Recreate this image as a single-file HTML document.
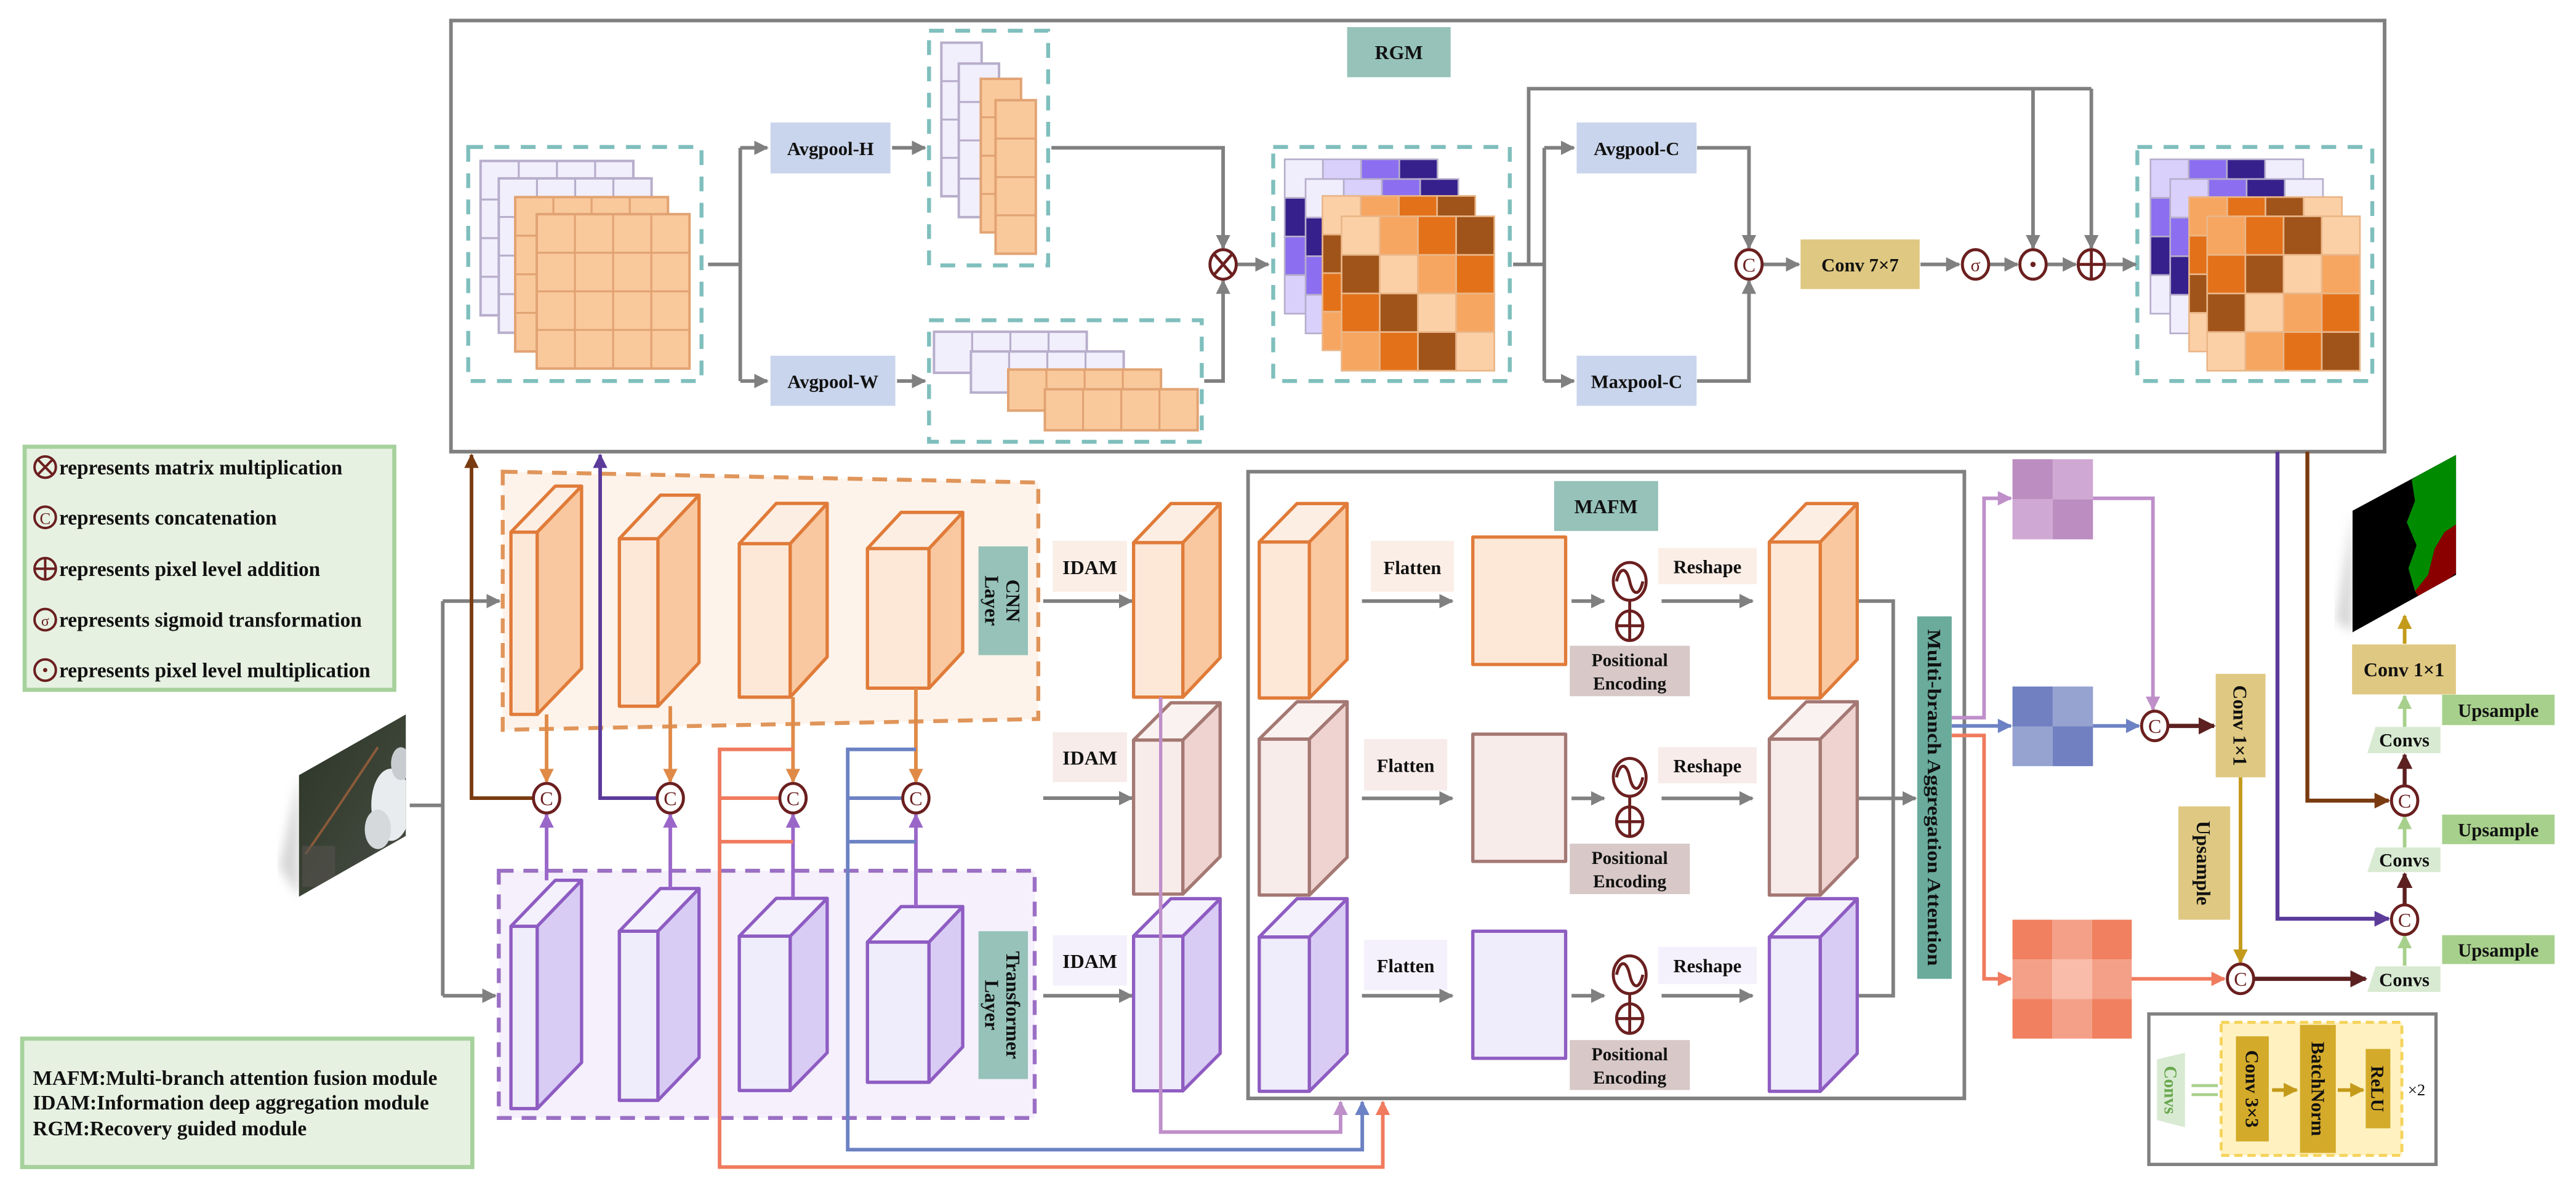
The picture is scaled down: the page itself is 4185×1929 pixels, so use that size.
<!DOCTYPE html>
<html><head><meta charset="utf-8"><style>
html,body{margin:0;padding:0;background:#fff;}
svg{display:block;}
text{font-family:"Liberation Serif",serif;font-weight:bold;fill:#111;}
</style></head><body>
<svg width="4185" height="1929" viewBox="0 0 1568 722.75" xmlns="http://www.w3.org/2000/svg">
<defs>
<marker id="mG" viewBox="0 0 10 10" refX="9" refY="5" markerWidth="4" markerHeight="4" orient="auto"><path d="M0 0L10 5L0 10z" fill="#808080"/></marker>
<marker id="mO" viewBox="0 0 10 10" refX="9" refY="5" markerWidth="4" markerHeight="4" orient="auto"><path d="M0 0L10 5L0 10z" fill="#e08a48"/></marker>
<marker id="mP" viewBox="0 0 10 10" refX="9" refY="5" markerWidth="4" markerHeight="4" orient="auto"><path d="M0 0L10 5L0 10z" fill="#9a67c9"/></marker>
<marker id="mB" viewBox="0 0 10 10" refX="9" refY="5" markerWidth="4" markerHeight="4" orient="auto"><path d="M0 0L10 5L0 10z" fill="#7a3b10"/></marker>
<marker id="mDP" viewBox="0 0 10 10" refX="9" refY="5" markerWidth="4" markerHeight="4" orient="auto"><path d="M0 0L10 5L0 10z" fill="#5b3a9a"/></marker>
<marker id="mS" viewBox="0 0 10 10" refX="9" refY="5" markerWidth="4" markerHeight="4" orient="auto"><path d="M0 0L10 5L0 10z" fill="#f07b5e"/></marker>
<marker id="mBl" viewBox="0 0 10 10" refX="9" refY="5" markerWidth="4" markerHeight="4" orient="auto"><path d="M0 0L10 5L0 10z" fill="#6c82c4"/></marker>
<marker id="mPk" viewBox="0 0 10 10" refX="9" refY="5" markerWidth="4" markerHeight="4" orient="auto"><path d="M0 0L10 5L0 10z" fill="#bf8fca"/></marker>
<marker id="mR" viewBox="0 0 10 10" refX="9" refY="5" markerWidth="4" markerHeight="4" orient="auto"><path d="M0 0L10 5L0 10z" fill="#5c2020"/></marker>
<marker id="mY" viewBox="0 0 10 10" refX="9" refY="5" markerWidth="4" markerHeight="4" orient="auto"><path d="M0 0L10 5L0 10z" fill="#c49a1a"/></marker>
<marker id="mLG" viewBox="0 0 10 10" refX="9" refY="5" markerWidth="4" markerHeight="4" orient="auto"><path d="M0 0L10 5L0 10z" fill="#a8d08d"/></marker>

<g id="Lg"><rect width="93" height="94" fill="#f1effc" stroke="#b7aecb" stroke-width="1.5"/><path d="M23.25 0V94M46.5 0V94M69.75 0V94M0 23.5H93M0 47H93M0 70.5H93" stroke="#b7aecb" stroke-width="1.2"/></g>
<g id="Og"><rect width="93" height="94" fill="#f9c99c" stroke="#e2a373" stroke-width="1.5"/><path d="M23.25 0V94M46.5 0V94M69.75 0V94M0 23.5H93M0 47H93M0 70.5H93" stroke="#e2a373" stroke-width="1.2"/></g>
<g id="HL"><rect width="24.5" height="93.5" fill="#f1effc" stroke="#b7aecb" stroke-width="1.5"/><path d="M0 23.4H24.5M0 46.8H24.5M0 70.1H24.5" stroke="#b7aecb" stroke-width="1.2"/></g>
<g id="HO"><rect width="24.5" height="93.5" fill="#f9c99c" stroke="#e2a373" stroke-width="1.5"/><path d="M0 23.4H24.5M0 46.8H24.5M0 70.1H24.5" stroke="#e2a373" stroke-width="1.2"/></g>
<g id="WL"><rect width="93" height="25" fill="#f1effc" stroke="#b7aecb" stroke-width="1.5"/><path d="M23.25 0V25M46.5 0V25M69.75 0V25" stroke="#b7aecb" stroke-width="1.2"/></g>
<g id="WO"><rect width="93" height="25" fill="#f9c99c" stroke="#e2a373" stroke-width="1.5"/><path d="M23.25 0V25M46.5 0V25M69.75 0V25" stroke="#e2a373" stroke-width="1.2"/></g>

<g id="MO" stroke="#eab688" stroke-width="1">
<rect x="0" y="0" width="23.25" height="23.5" fill="#fcd0a6"/><rect x="23.25" y="0" width="23.25" height="23.5" fill="#f7a661"/><rect x="46.5" y="0" width="23.25" height="23.5" fill="#e3711a"/><rect x="69.75" y="0" width="23.25" height="23.5" fill="#a0541a"/>
<rect x="0" y="23.5" width="23.25" height="23.5" fill="#a0541a"/><rect x="23.25" y="23.5" width="23.25" height="23.5" fill="#fcd0a6"/><rect x="46.5" y="23.5" width="23.25" height="23.5" fill="#f7a661"/><rect x="69.75" y="23.5" width="23.25" height="23.5" fill="#e3711a"/>
<rect x="0" y="47" width="23.25" height="23.5" fill="#e3711a"/><rect x="23.25" y="47" width="23.25" height="23.5" fill="#a0541a"/><rect x="46.5" y="47" width="23.25" height="23.5" fill="#fcd0a6"/><rect x="69.75" y="47" width="23.25" height="23.5" fill="#f7a661"/>
<rect x="0" y="70.5" width="23.25" height="23.5" fill="#f7a661"/><rect x="23.25" y="70.5" width="23.25" height="23.5" fill="#e3711a"/><rect x="46.5" y="70.5" width="23.25" height="23.5" fill="#a0541a"/><rect x="69.75" y="70.5" width="23.25" height="23.5" fill="#fcd0a6"/>
</g>
<g id="MP" stroke="#b7aecb" stroke-width="1">
<rect x="0" y="0" width="23.25" height="23.5" fill="#f0eefc"/><rect x="23.25" y="0" width="23.25" height="23.5" fill="#d9d0fb"/><rect x="46.5" y="0" width="23.25" height="23.5" fill="#8b6ff0"/><rect x="69.75" y="0" width="23.25" height="23.5" fill="#36208c"/>
<rect x="0" y="23.5" width="23.25" height="23.5" fill="#36208c"/><rect x="23.25" y="23.5" width="23.25" height="23.5" fill="#f0eefc"/><rect x="46.5" y="23.5" width="23.25" height="23.5" fill="#d9d0fb"/><rect x="69.75" y="23.5" width="23.25" height="23.5" fill="#8b6ff0"/>
<rect x="0" y="47" width="23.25" height="23.5" fill="#8b6ff0"/><rect x="23.25" y="47" width="23.25" height="23.5" fill="#36208c"/><rect x="46.5" y="47" width="23.25" height="23.5" fill="#f0eefc"/><rect x="69.75" y="47" width="23.25" height="23.5" fill="#d9d0fb"/>
<rect x="0" y="70.5" width="23.25" height="23.5" fill="#d9d0fb"/><rect x="23.25" y="70.5" width="23.25" height="23.5" fill="#8b6ff0"/><rect x="46.5" y="70.5" width="23.25" height="23.5" fill="#36208c"/><rect x="69.75" y="70.5" width="23.25" height="23.5" fill="#f0eefc"/>
</g>
<g id="RO" stroke="#eab688" stroke-width="1">
<rect x="0" y="0" width="23.25" height="23.5" fill="#f7a661"/><rect x="23.25" y="0" width="23.25" height="23.5" fill="#e3711a"/><rect x="46.5" y="0" width="23.25" height="23.5" fill="#a0541a"/><rect x="69.75" y="0" width="23.25" height="23.5" fill="#fcd0a6"/>
<rect x="0" y="23.5" width="23.25" height="23.5" fill="#e3711a"/><rect x="23.25" y="23.5" width="23.25" height="23.5" fill="#a0541a"/><rect x="46.5" y="23.5" width="23.25" height="23.5" fill="#fcd0a6"/><rect x="69.75" y="23.5" width="23.25" height="23.5" fill="#f7a661"/>
<rect x="0" y="47" width="23.25" height="23.5" fill="#a0541a"/><rect x="23.25" y="47" width="23.25" height="23.5" fill="#fcd0a6"/><rect x="46.5" y="47" width="23.25" height="23.5" fill="#f7a661"/><rect x="69.75" y="47" width="23.25" height="23.5" fill="#e3711a"/>
<rect x="0" y="70.5" width="23.25" height="23.5" fill="#fcd0a6"/><rect x="23.25" y="70.5" width="23.25" height="23.5" fill="#f7a661"/><rect x="46.5" y="70.5" width="23.25" height="23.5" fill="#e3711a"/><rect x="69.75" y="70.5" width="23.25" height="23.5" fill="#a0541a"/>
</g>
<g id="RP" stroke="#b7aecb" stroke-width="1">
<rect x="0" y="0" width="23.25" height="23.5" fill="#d9d0fb"/><rect x="23.25" y="0" width="23.25" height="23.5" fill="#8b6ff0"/><rect x="46.5" y="0" width="23.25" height="23.5" fill="#36208c"/><rect x="69.75" y="0" width="23.25" height="23.5" fill="#f0eefc"/>
<rect x="0" y="23.5" width="23.25" height="23.5" fill="#8b6ff0"/><rect x="23.25" y="23.5" width="23.25" height="23.5" fill="#36208c"/><rect x="46.5" y="23.5" width="23.25" height="23.5" fill="#f0eefc"/><rect x="69.75" y="23.5" width="23.25" height="23.5" fill="#d9d0fb"/>
<rect x="0" y="47" width="23.25" height="23.5" fill="#36208c"/><rect x="23.25" y="47" width="23.25" height="23.5" fill="#f0eefc"/><rect x="46.5" y="47" width="23.25" height="23.5" fill="#d9d0fb"/><rect x="69.75" y="47" width="23.25" height="23.5" fill="#8b6ff0"/>
<rect x="0" y="70.5" width="23.25" height="23.5" fill="#f0eefc"/><rect x="23.25" y="70.5" width="23.25" height="23.5" fill="#d9d0fb"/><rect x="46.5" y="70.5" width="23.25" height="23.5" fill="#8b6ff0"/><rect x="69.75" y="70.5" width="23.25" height="23.5" fill="#36208c"/>
</g>
<linearGradient id="sat" x1="0" y1="0" x2="1" y2="1"><stop offset="0" stop-color="#2b3527"/><stop offset="0.5" stop-color="#3a4235"/><stop offset="1" stop-color="#4a4c48"/></linearGradient>
<clipPath id="satc"><polygon points="182,472 247,435 247,509 182,546"/></clipPath>
<clipPath id="segc"><polygon points="1432,311 1495,277 1495,350 1432,385"/></clipPath>
<filter id="blur"><feGaussianBlur stdDeviation="3"/></filter>
</defs>

<!-- ============ RGM ============ -->
<rect x="274.5" y="12.5" width="1177" height="262.5" fill="#fff" stroke="#808080" stroke-width="2.2"/>
<rect x="820" y="16.5" width="63" height="30.5" fill="#96c2b9"/>
<text x="851.5" y="36" font-size="12" text-anchor="middle">RGM</text>

<!-- left map -->
<rect x="285" y="89.5" width="142" height="142.5" fill="none" stroke="#7fbfbd" stroke-width="2.4" stroke-dasharray="9 7"/>
<use href="#Lg" x="292.5" y="98"/><use href="#Lg" x="303.6" y="108.6"/><use href="#Og" x="313.6" y="120"/><use href="#Og" x="326.7" y="130.4"/>
<!-- H map -->
<rect x="565.5" y="18.7" width="72.5" height="142.9" fill="none" stroke="#7fbfbd" stroke-width="2.4" stroke-dasharray="9 7"/>
<use href="#HL" x="573" y="26"/><use href="#HL" x="583.6" y="38.7"/><use href="#HO" x="597" y="48"/><use href="#HO" x="606" y="61"/>
<!-- W map -->
<rect x="565.5" y="195" width="166" height="74" fill="none" stroke="#7fbfbd" stroke-width="2.4" stroke-dasharray="9 7"/>
<use href="#WL" x="568.5" y="202"/><use href="#WL" x="591" y="214"/><use href="#WO" x="613.7" y="225"/><use href="#WO" x="636" y="237"/>
<!-- mid map -->
<rect x="775" y="89.5" width="144" height="142.5" fill="none" stroke="#7fbfbd" stroke-width="2.4" stroke-dasharray="9 7"/>
<use href="#MP" x="782" y="97"/><use href="#MP" x="794.7" y="109"/><use href="#MO" x="805" y="119.3"/><use href="#MO" x="816.6" y="131.7"/>
<!-- right map -->
<rect x="1301" y="89.5" width="143" height="142.5" fill="none" stroke="#7fbfbd" stroke-width="2.4" stroke-dasharray="9 7"/>
<use href="#RP" x="1309" y="97"/><use href="#RP" x="1321" y="109"/><use href="#RO" x="1332.5" y="120"/><use href="#RO" x="1343.5" y="131.7"/>

<rect x="469" y="74.6" width="73" height="31" fill="#c9d5ec"/><text x="505.5" y="94.5" font-size="11.5" text-anchor="middle">Avgpool-H</text>
<rect x="469" y="216.6" width="76" height="30.5" fill="#c9d5ec"/><text x="507" y="236.3" font-size="11.5" text-anchor="middle">Avgpool-W</text>
<rect x="959.7" y="74.6" width="73" height="31" fill="#c9d5ec"/><text x="996.2" y="94.5" font-size="11.5" text-anchor="middle">Avgpool-C</text>
<rect x="959.7" y="216.6" width="73" height="30.5" fill="#c9d5ec"/><text x="996.2" y="236.3" font-size="11.5" text-anchor="middle">Maxpool-C</text>
<rect x="1096" y="145.8" width="72.5" height="30.2" fill="#dfc881"/><text x="1132.2" y="165.3" font-size="11.5" text-anchor="middle">Conv 7×7</text>

<g fill="none" stroke="#808080" stroke-width="2.2">
<path d="M431 161H450.6M450.6 90V232"/>
<path d="M450.6 90H467" marker-end="url(#mG)"/>
<path d="M450.6 232H467" marker-end="url(#mG)"/>
<path d="M543 90H563" marker-end="url(#mG)"/>
<path d="M546 232H563" marker-end="url(#mG)"/>
<path d="M640 90H744.5V151" marker-end="url(#mG)"/>
<path d="M733 232H744.5V171" marker-end="url(#mG)"/>
<path d="M753 161H772" marker-end="url(#mG)"/>
<path d="M921 161H940M940 90V232M930.5 161V54H1273"/>
<path d="M940 90H958" marker-end="url(#mG)"/>
<path d="M940 232H958" marker-end="url(#mG)"/>
<path d="M1033 90H1064.6V151" marker-end="url(#mG)"/>
<path d="M1033 232H1064.6V171" marker-end="url(#mG)"/>
<path d="M1073 161H1095" marker-end="url(#mG)"/>
<path d="M1169 161H1192.5" marker-end="url(#mG)"/>
<path d="M1211 161H1228" marker-end="url(#mG)"/>
<path d="M1246 161H1263.5" marker-end="url(#mG)"/>
<path d="M1282 161H1300" marker-end="url(#mG)"/>
<path d="M1237.5 54V151" marker-end="url(#mG)"/>
<path d="M1273 54V151" marker-end="url(#mG)"/>
</g>
<g fill="#fff" stroke="#6b1f1f" stroke-width="1.8">
<ellipse cx="744.5" cy="161" rx="8" ry="9"/><path d="M738.9 154.6L750.1 167.4M750.1 154.6L738.9 167.4"/>
<ellipse cx="1064.6" cy="161" rx="8" ry="9"/>
<ellipse cx="1202.5" cy="161" rx="8" ry="9"/>
<ellipse cx="1237.5" cy="161" rx="8" ry="9"/>
<ellipse cx="1273" cy="161" rx="8" ry="9"/><path d="M1265 161H1281M1273 152V170"/>
</g>
<circle cx="1237.5" cy="161" r="1.6" fill="#6b1f1f"/>
<text x="1064.6" y="165.5" font-size="12" text-anchor="middle" style="font-weight:normal;fill:#6b1f1f">C</text>
<text x="1202.5" y="165" font-size="11" text-anchor="middle" style="font-weight:normal;fill:#6b1f1f">σ</text>

<!-- ============ Legends ============ -->
<rect x="15" y="272" width="225" height="148" fill="#e7f1e2" stroke="#a6d19c" stroke-width="2.5"/>
<g fill="none" stroke="#6b1f1f" stroke-width="1.5">
<circle cx="27.5" cy="284.4" r="6.5"/><path d="M23 279.8L32 289M32 279.8L23 289"/>
<circle cx="27.5" cy="315" r="6.5"/>
<circle cx="27.5" cy="346.3" r="6.5"/><path d="M21 346.3H34M27.5 339.8V352.8"/>
<circle cx="27.5" cy="377.3" r="6.5"/>
<circle cx="27.5" cy="408" r="6.5"/>
</g>
<circle cx="27.5" cy="408" r="1.3" fill="#6b1f1f"/>
<text x="27.5" y="319" font-size="10" text-anchor="middle" style="font-weight:normal;fill:#6b1f1f">C</text>
<text x="27.5" y="381" font-size="9" text-anchor="middle" style="font-weight:normal;fill:#6b1f1f">σ</text>
<g font-size="12.5">
<text x="36" y="288.8">represents matrix multiplication</text>
<text x="36" y="319.4">represents concatenation</text>
<text x="36" y="350.7">represents pixel level addition</text>
<text x="36" y="381.7">represents sigmoid transformation</text>
<text x="36" y="412.4">represents pixel level multiplication</text>
</g>
<rect x="13.5" y="632.4" width="274" height="78.2" fill="#e7f1e2" stroke="#a6d19c" stroke-width="2.5"/>
<g font-size="12.5">
<text x="20" y="660.6">MAFM:Multi-branch attention fusion module</text>
<text x="20" y="675.6">IDAM:Information deep aggregation module</text>
<text x="20" y="691.3">RGM:Recovery guided module</text>
</g>

<!-- ============ Input image ============ -->
<polygon points="170,528 182,472 182,546" fill="#bbb" opacity="0.6" filter="url(#blur)"/>
<polygon points="182,472 247,435 247,509 182,546" fill="url(#sat)"/>
<g clip-path="url(#satc)">
<ellipse cx="238" cy="490" rx="12" ry="22" fill="#e9ecef"/>
<ellipse cx="230" cy="505" rx="8" ry="12" fill="#d5d9dc"/>
<ellipse cx="244" cy="465" rx="6" ry="10" fill="#c8ccd0"/>
<path d="M186 520Q200 500 210 485T230 455" stroke="#8a5a3a" stroke-width="1.5" fill="none"/>
<rect x="184" y="515" width="20" height="25" fill="#55524d" opacity="0.6"/>
</g>

<!-- ============ CNN / Transformer regions ============ -->
<polygon points="306,287.2 632,293.8 632,437.8 306,444.4" fill="#fdf3ea" stroke="#e0955a" stroke-width="2.4" stroke-dasharray="9 6"/>
<rect x="303.6" y="530.2" width="326.2" height="150.5" fill="#f5f0fc" stroke="#9b6fc4" stroke-width="2.4" stroke-dasharray="9 6"/>

<!-- CNN cubes -->
<g stroke="#e07b39" stroke-width="2" stroke-linejoin="round">
<rect x="311" y="324" width="16" height="111" fill="#fde8d8"/><polygon points="327,324 354,296 354,407 327,435" fill="#f9c8a0"/><polygon points="311,324 338,296 354,296 327,324" fill="#fdeee3"/>
<rect x="377" y="328" width="23.5" height="102" fill="#fde8d8"/><polygon points="400.5,328 425.5,301.5 425.5,403.5 400.5,430" fill="#f9c8a0"/><polygon points="377,328 402,301.5 425.5,301.5 400.5,328" fill="#fdeee3"/>
<rect x="450" y="331" width="31" height="93.5" fill="#fde8d8"/><polygon points="481,331 503.5,306.5 503.5,400 481,424.5" fill="#f9c8a0"/><polygon points="450,331 472.5,306.5 503.5,306.5 481,331" fill="#fdeee3"/>
<rect x="528" y="334" width="37.5" height="85" fill="#fde8d8"/><polygon points="565.5,334 586,312 586,397 565.5,419" fill="#f9c8a0"/><polygon points="528,334 548.5,312 586,312 565.5,334" fill="#fdeee3"/>
</g>
<!-- Transformer cubes -->
<g stroke="#8e5cc2" stroke-width="2" stroke-linejoin="round">
<rect x="311" y="564" width="16" height="111" fill="#efecfb"/><polygon points="327,564 354,536 354,647 327,675" fill="#d8ccf5"/><polygon points="311,564 338,536 354,536 327,564" fill="#f4f1fd"/>
<rect x="377" y="567" width="23.5" height="103" fill="#efecfb"/><polygon points="400.5,567 425.5,541 425.5,644 400.5,670" fill="#d8ccf5"/><polygon points="377,567 402,541 425.5,541 400.5,567" fill="#f4f1fd"/>
<rect x="450" y="570" width="31" height="94" fill="#efecfb"/><polygon points="481,570 503.5,547 503.5,641 481,664" fill="#d8ccf5"/><polygon points="450,570 472.5,547 503.5,547 481,570" fill="#f4f1fd"/>
<rect x="528" y="573.6" width="37.5" height="85.4" fill="#efecfb"/><polygon points="565.5,573.6 586,552 586,637.5 565.5,659" fill="#d8ccf5"/><polygon points="528,573.6 548.5,552 586,552 565.5,573.6" fill="#f4f1fd"/>
</g>

<rect x="595.6" y="332.7" width="30.1" height="66.2" fill="#96c2b9"/>
<g transform="translate(610.6,365.8) rotate(90)" font-size="12" text-anchor="middle"><text y="-2">CNN</text><text y="11">Layer</text></g>
<rect x="595.6" y="567" width="30.1" height="90" fill="#96c2b9"/>
<g transform="translate(610.6,612) rotate(90)" font-size="12" text-anchor="middle"><text y="-2">Transformer</text><text y="11">Layer</text></g>

<!-- input connectors -->
<g fill="none" stroke-width="2.2">
<path d="M249.4 490.4H269.5M269.5 366V606.3" stroke="#808080"/>
<path d="M269.5 366H304" stroke="#808080" marker-end="url(#mG)"/>
<path d="M269.5 606.3H301.5" stroke="#808080" marker-end="url(#mG)"/>
<path d="M324 486H287V277" stroke="#7a3b10" marker-end="url(#mB)"/>
<path d="M399.5 486H365.3V277" stroke="#5b3a9a" marker-end="url(#mDP)"/>
<path d="M332.7 435V476" stroke="#e08a48" marker-end="url(#mO)"/>
<path d="M408 430V476" stroke="#e08a48" marker-end="url(#mO)"/>
<path d="M482.7 424.5V476" stroke="#e08a48" marker-end="url(#mO)"/>
<path d="M557.5 419V476" stroke="#e08a48" marker-end="url(#mO)"/>
<path d="M332.7 536V496" stroke="#9a67c9" marker-end="url(#mP)"/>
<path d="M408 541V496" stroke="#9a67c9" marker-end="url(#mP)"/>
<path d="M482.7 547V496" stroke="#9a67c9" marker-end="url(#mP)"/>
<path d="M557.5 552V496" stroke="#9a67c9" marker-end="url(#mP)"/>
<path d="M482.7 456.3H438V710.6H841.7V671" stroke="#f07b5e" marker-end="url(#mS)"/>
<path d="M438 486H474M438 512.5H482.7" stroke="#f07b5e"/>
<path d="M557.5 456.3H516V700H829.2V671" stroke="#6c82c4" marker-end="url(#mBl)"/>
<path d="M516 486H549M516 512.5H557.5" stroke="#6c82c4"/>
<path d="M706.5 424.5V689.3H816V671" stroke="#bf8fca" marker-end="url(#mPk)"/>
</g>
<g fill="#fff" stroke="#6b1f1f" stroke-width="1.8">
<ellipse cx="332.7" cy="486" rx="8" ry="9"/><ellipse cx="408" cy="486" rx="8" ry="9"/><ellipse cx="482.7" cy="486" rx="8" ry="9"/><ellipse cx="557.5" cy="486" rx="8" ry="9"/>
</g>
<g font-size="12" text-anchor="middle" style="font-weight:normal"><text x="332.7" y="490.3" style="fill:#6b1f1f;font-weight:normal">C</text><text x="408" y="490.3" style="fill:#6b1f1f;font-weight:normal">C</text><text x="482.7" y="490.3" style="fill:#6b1f1f;font-weight:normal">C</text><text x="557.5" y="490.3" style="fill:#6b1f1f;font-weight:normal">C</text></g>

<!-- IDAM -->
<rect x="640.8" y="329.3" width="45.2" height="31" fill="#fbeee6"/><text x="663.4" y="349.5" font-size="12" text-anchor="middle">IDAM</text>
<rect x="640.8" y="445.8" width="45.2" height="30.4" fill="#f7ecea"/><text x="663.4" y="465.5" font-size="12" text-anchor="middle">IDAM</text>
<rect x="640.8" y="569.4" width="45.2" height="30.7" fill="#f5f1fc"/><text x="663.4" y="589.3" font-size="12" text-anchor="middle">IDAM</text>
<g fill="none" stroke="#808080" stroke-width="2.2">
<path d="M635 366H689" marker-end="url(#mG)"/><path d="M635 486H689" marker-end="url(#mG)"/><path d="M635 606.3H689" marker-end="url(#mG)"/>
</g>
<!-- IDAM cubes -->
<g stroke-width="2" stroke-linejoin="round">
<g stroke="#e07b39"><rect x="690" y="330.4" width="30" height="94.1" fill="#fde8d8"/><polygon points="720,330.4 742.7,306.6 742.7,400.5 720,424.5" fill="#f9c8a0"/><polygon points="690,330.4 712.7,306.6 742.7,306.6 720,330.4" fill="#fdeee3"/></g>
<g stroke="#a47873"><rect x="690" y="450.6" width="30" height="93.8" fill="#f8ecea"/><polygon points="720,450.6 742.7,427.9 742.7,521.6 720,544.4" fill="#eed3d0"/><polygon points="690,450.6 712.7,427.9 742.7,427.9 720,450.6" fill="#faf2f0"/></g>
<g stroke="#8e5cc2"><rect x="690" y="570" width="30" height="94.2" fill="#efecfb"/><polygon points="720,570 742.7,547.2 742.7,641.4 720,664.2" fill="#d8ccf5"/><polygon points="690,570 712.7,547.2 742.7,547.2 720,570" fill="#f4f1fd"/></g>
</g>
<path d="M706.5 424.5V689.3" stroke="#bf8fca" stroke-width="2" fill="none"/>

<!-- ============ MAFM ============ -->
<rect x="759.7" y="287.2" width="436" height="381.6" fill="#fff" stroke="#808080" stroke-width="2.2"/>
<rect x="946" y="292.9" width="63.3" height="30.4" fill="#96c2b9"/><text x="977.6" y="312.5" font-size="12" text-anchor="middle">MAFM</text>

<g stroke-width="2" stroke-linejoin="round">
<g stroke="#e07b39"><rect x="766.5" y="330" width="30.5" height="95" fill="#fde8d8"/><polygon points="797,330 820,306.6 820,401.5 797,425" fill="#f9c8a0"/><polygon points="766.5,330 789.5,306.6 820,306.6 797,330" fill="#fdeee3"/>
<rect x="1077" y="330" width="31" height="95" fill="#fde8d8"/><polygon points="1108,330 1130.5,306.6 1130.5,401.5 1108,425" fill="#f9c8a0"/><polygon points="1077,330 1099.5,306.6 1130.5,306.6 1108,330" fill="#fdeee3"/>
<rect x="896.5" y="327" width="56.5" height="77.6" fill="#fde8d8"/></g>
<g stroke="#a47873"><rect x="766.5" y="450" width="30.5" height="95" fill="#f8ecea"/><polygon points="797,450 820,427.3 820,522 797,545" fill="#eed3d0"/><polygon points="766.5,450 789.5,427.3 820,427.3 797,450" fill="#faf2f0"/>
<rect x="1077" y="450" width="31" height="95" fill="#f8ecea"/><polygon points="1108,450 1130.5,427.3 1130.5,522 1108,545" fill="#eed3d0"/><polygon points="1077,450 1099.5,427.3 1130.5,427.3 1108,450" fill="#faf2f0"/>
<rect x="896.5" y="447" width="56.5" height="77.5" fill="#f8ecea"/></g>
<g stroke="#8e5cc2"><rect x="766.5" y="570.5" width="30.5" height="94" fill="#efecfb"/><polygon points="797,570.5 820,547.2 820,641.5 797,664.5" fill="#d8ccf5"/><polygon points="766.5,570.5 789.5,547.2 820,547.2 797,570.5" fill="#f4f1fd"/>
<rect x="1077" y="570.5" width="31" height="94" fill="#efecfb"/><polygon points="1108,570.5 1130.5,547.2 1130.5,641.5 1108,664.5" fill="#d8ccf5"/><polygon points="1077,570.5 1099.5,547.2 1130.5,547.2 1108,570.5" fill="#f4f1fd"/>
<rect x="896.5" y="567" width="56.5" height="77.4" fill="#efecfb"/></g>
</g>

<rect x="834.4" y="329.3" width="50.6" height="31" fill="#fbeee6"/><text x="859.7" y="349.5" font-size="11.5" text-anchor="middle">Flatten</text>
<rect x="830.3" y="450" width="50.6" height="31.3" fill="#f7ecea"/><text x="855.6" y="470" font-size="11.5" text-anchor="middle">Flatten</text>
<rect x="830.3" y="572.2" width="50.6" height="30.7" fill="#f5f1fc"/><text x="855.6" y="592" font-size="11.5" text-anchor="middle">Flatten</text>
<rect x="1009.3" y="333.6" width="60" height="22.1" fill="#fbeee6"/><text x="1039.3" y="349" font-size="11.5" text-anchor="middle">Reshape</text>
<rect x="1009.3" y="454.9" width="60" height="22.1" fill="#f7ecea"/><text x="1039.3" y="470.3" font-size="11.5" text-anchor="middle">Reshape</text>
<rect x="1009.3" y="576.5" width="60" height="22.7" fill="#f5f1fc"/><text x="1039.3" y="592" font-size="11.5" text-anchor="middle">Reshape</text>

<rect x="955.5" y="393.2" width="73.1" height="30.7" fill="#d8c8c8"/><text x="992" y="405.5" font-size="11" text-anchor="middle">Positional</text><text x="992" y="419.8" font-size="11" text-anchor="middle">Encoding</text>
<rect x="955.5" y="513.7" width="73.1" height="30.7" fill="#d8c8c8"/><text x="992" y="526" font-size="11" text-anchor="middle">Positional</text><text x="992" y="540.3" font-size="11" text-anchor="middle">Encoding</text>
<rect x="955.5" y="633.3" width="73.1" height="30.4" fill="#d8c8c8"/><text x="992" y="645.5" font-size="11" text-anchor="middle">Positional</text><text x="992" y="659.8" font-size="11" text-anchor="middle">Encoding</text>

<g fill="none" stroke="#808080" stroke-width="2.2">
<path d="M829 366H884" marker-end="url(#mG)"/><path d="M829 486.1H884" marker-end="url(#mG)"/><path d="M829 606.3H884" marker-end="url(#mG)"/>
<path d="M956.6 366H976.4" marker-end="url(#mG)"/><path d="M956.6 486.1H976.4" marker-end="url(#mG)"/><path d="M956.6 606.3H976.4" marker-end="url(#mG)"/>
<path d="M1011.4 366H1066.7" marker-end="url(#mG)"/><path d="M1011.4 486.1H1066.7" marker-end="url(#mG)"/><path d="M1011.4 606.3H1066.7" marker-end="url(#mG)"/>
<path d="M1131.5 366H1152.4V606.3H1131.5"/>
<path d="M1131.5 486.1H1166" marker-end="url(#mG)"/>
</g>
<g fill="#fff" stroke="#6b1f1f" stroke-width="1.8">
<ellipse cx="992" cy="354" rx="10" ry="11.5"/><path d="M992 365.5V372" fill="none"/><ellipse cx="992" cy="381" rx="8" ry="9"/><path d="M984 381H1000M992 372V390" fill="none"/>
<path d="M984 354C986 345 990 345 992 354S998 363 1000 354" fill="none"/>
<ellipse cx="992" cy="473.3" rx="10" ry="11.5"/><path d="M992 484.8V491.3" fill="none"/><ellipse cx="992" cy="500.3" rx="8" ry="9"/><path d="M984 500.3H1000M992 491.3V509.3" fill="none"/>
<path d="M984 473.3C986 464.3 990 464.3 992 473.3S998 482.3 1000 473.3" fill="none"/>
<ellipse cx="992" cy="593.5" rx="10" ry="11.5"/><path d="M992 605V611.2" fill="none"/><ellipse cx="992" cy="620.2" rx="8" ry="9"/><path d="M984 620.2H1000M992 611.2V629.2" fill="none"/>
<path d="M984 593.5C986 584.5 990 584.5 992 593.5S998 602.5 1000 593.5" fill="none"/>
</g>

<rect x="1167" y="375.3" width="21" height="220.7" fill="#6aab9c"/>
<text transform="translate(1177.5,485.6) rotate(90)" y="4" font-size="11.5" text-anchor="middle" textLength="205" lengthAdjust="spacingAndGlyphs">Multi-branch Aggregation Attention</text>

<!-- ============ Right decoder ============ -->
<g>
<rect x="1225" y="279.6" width="24.5" height="24.4" fill="#bc8dc0"/><rect x="1249.5" y="279.6" width="24.5" height="24.4" fill="#d0a8d4"/><rect x="1225" y="304" width="24.5" height="24.4" fill="#d0a8d4"/><rect x="1249.5" y="304" width="24.5" height="24.4" fill="#bc8dc0"/>
<rect x="1225" y="418" width="24.5" height="24.3" fill="#7080c0"/><rect x="1249.5" y="418" width="24.5" height="24.3" fill="#96a2d0"/><rect x="1225" y="442.3" width="24.5" height="24.2" fill="#96a2d0"/><rect x="1249.5" y="442.3" width="24.5" height="24.2" fill="#7080c0"/>
<rect x="1225" y="560" width="24.2" height="24.2" fill="#f08060"/><rect x="1249.2" y="560" width="24.2" height="24.2" fill="#f4a088"/><rect x="1273.4" y="560" width="24.2" height="24.2" fill="#f08060"/>
<rect x="1225" y="584.2" width="24.2" height="24.1" fill="#f4a088"/><rect x="1249.2" y="584.2" width="24.2" height="24.1" fill="#f9bcaa"/><rect x="1273.4" y="584.2" width="24.2" height="24.1" fill="#f4a088"/>
<rect x="1225" y="608.3" width="24.2" height="24.1" fill="#f08060"/><rect x="1249.2" y="608.3" width="24.2" height="24.1" fill="#f4a088"/><rect x="1273.4" y="608.3" width="24.2" height="24.1" fill="#f08060"/>
</g>

<rect x="1348.7" y="410.3" width="30.3" height="63" fill="#dfc881"/>
<text transform="translate(1364,441.8) rotate(90)" y="4.5" font-size="12" text-anchor="middle">Conv 1×1</text>
<rect x="1326" y="491" width="31.5" height="69" fill="#dfc881"/>
<text transform="translate(1341.7,525.5) rotate(90)" y="4.5" font-size="12" text-anchor="middle">Upsample</text>

<g fill="none" stroke-width="2.2">
<path d="M1188 437H1207.7V303.4H1224" stroke="#bf8fca" marker-end="url(#mPk)"/>
<path d="M1188 442H1224" stroke="#6c82c4" marker-end="url(#mBl)"/>
<path d="M1188 447.8H1207.7V596H1224" stroke="#f07b5e" marker-end="url(#mS)"/>
<path d="M1274 303.4H1310.5V432" stroke="#bf8fca" marker-end="url(#mPk)"/>
<path d="M1274 442H1302" stroke="#6c82c4" marker-end="url(#mBl)"/>
<path d="M1320 442H1347.7" stroke="#5c2020" stroke-width="2.6" marker-end="url(#mR)"/>
<path d="M1363.8 473.3V586" stroke="#c49a1a" marker-end="url(#mY)"/>
<path d="M1297.5 596H1354" stroke="#f07b5e" marker-end="url(#mS)"/>
<path d="M1372 596H1440" stroke="#5c2020" stroke-width="2.6" marker-end="url(#mR)"/>
<path d="M1386.3 275V559.4H1454" stroke="#5b3a9a" stroke-width="2.4" marker-end="url(#mDP)"/>
<path d="M1404.5 275V487.5H1454" stroke="#7a3b10" stroke-width="2.4" marker-end="url(#mB)"/>
<path d="M1463.7 588V569.5" stroke="#a8d08d" marker-end="url(#mLG)"/>
<path d="M1463.7 516V497" stroke="#a8d08d" marker-end="url(#mLG)"/>
<path d="M1463.7 442.6V423.8" stroke="#a8d08d" marker-end="url(#mLG)"/>
<path d="M1463.7 551V532" stroke="#5c2020" stroke-width="2.4" marker-end="url(#mR)"/>
<path d="M1463.7 478.5V459.6" stroke="#5c2020" stroke-width="2.4" marker-end="url(#mR)"/>
<path d="M1463.7 392V375" stroke="#c49a1a" marker-end="url(#mY)"/>
</g>
<g fill="#fff" stroke="#6b1f1f" stroke-width="1.8">
<ellipse cx="1311.6" cy="442" rx="8" ry="9"/><ellipse cx="1363.8" cy="596" rx="8" ry="9"/><ellipse cx="1463.7" cy="560" rx="8" ry="9"/><ellipse cx="1463.7" cy="487.5" rx="8" ry="9"/>
</g>
<text x="1311.6" y="446.3" font-size="12" text-anchor="middle" style="fill:#6b1f1f;font-weight:normal">C</text>
<text x="1363.8" y="600.3" font-size="12" text-anchor="middle" style="fill:#6b1f1f;font-weight:normal">C</text>
<text x="1463.7" y="564.3" font-size="12" text-anchor="middle" style="fill:#6b1f1f;font-weight:normal">C</text>
<text x="1463.7" y="491.8" font-size="12" text-anchor="middle" style="fill:#6b1f1f;font-weight:normal">C</text>

<polygon points="1446,588.4 1485.5,588.4 1485.5,604 1441,604" fill="#d9ead3"/><text x="1463.5" y="600.5" font-size="11.5" text-anchor="middle">Convs</text>
<polygon points="1446,516 1485.5,516 1485.5,531 1441,531" fill="#d9ead3"/><text x="1463.5" y="527.5" font-size="11.5" text-anchor="middle">Convs</text>
<polygon points="1446,442.6 1485.5,442.6 1485.5,458.6 1441,458.6" fill="#d9ead3"/><text x="1463.5" y="454.5" font-size="11.5" text-anchor="middle">Convs</text>
<rect x="1486.5" y="569.4" width="68.5" height="17.6" fill="#a8d08d"/><text x="1520.7" y="582.5" font-size="11.5" text-anchor="middle">Upsample</text>
<rect x="1486.5" y="496" width="68.5" height="18" fill="#a8d08d"/><text x="1520.7" y="509.2" font-size="11.5" text-anchor="middle">Upsample</text>
<rect x="1486.5" y="423" width="68.5" height="18.5" fill="#a8d08d"/><text x="1520.7" y="436.5" font-size="11.5" text-anchor="middle">Upsample</text>
<rect x="1431.7" y="392.4" width="63.2" height="30.4" fill="#dfc881"/><text x="1463.3" y="411.8" font-size="12" text-anchor="middle">Conv 1×1</text>

<!-- output segmentation -->
<polygon points="1422,378 1432,311 1432,385" fill="#bbb" opacity="0.6" filter="url(#blur)"/>
<polygon points="1432,311 1495,277 1495,350 1432,385" fill="#000"/>
<g clip-path="url(#segc)">
<polygon points="1468,292 1500,270 1500,316 1488,324 1482,334 1478,350 1470,360 1466,346 1471,332 1465,318 1470,305" fill="#008a00"/>
<polygon points="1500,316 1500,345 1486,356 1474,366 1470,360 1478,350 1482,334 1488,324" fill="#8a0000"/>
</g>

<!-- Convs legend -->
<rect x="1308" y="617.4" width="174.8" height="91.6" fill="#fff" stroke="#808080" stroke-width="2"/>
<rect x="1352" y="622.5" width="110" height="81" fill="#fff2c0" stroke="#f5d35a" stroke-width="1.8" stroke-dasharray="5 3"/>
<polygon points="1313,645 1330,641 1330,686.4 1313,682" fill="#d9ead3"/>
<text transform="translate(1321.5,663.7) rotate(90)" y="4" font-size="11" text-anchor="middle" style="fill:#6aa84f">Convs</text>
<path d="M1334 661H1350M1334 666.5H1350" stroke="#a8d08d" stroke-width="1.8"/>
<rect x="1361" y="631" width="20" height="64" fill="#d4aa2a"/>
<text transform="translate(1371,663) rotate(90)" y="4" font-size="11.5" text-anchor="middle">Conv 3×3</text>
<rect x="1400" y="624" width="21.8" height="78" fill="#d4aa2a"/>
<text transform="translate(1411,663) rotate(90)" y="4" font-size="11.5" text-anchor="middle">BatchNorm</text>
<rect x="1440" y="638.7" width="15" height="48.3" fill="#d4aa2a"/>
<text transform="translate(1447.5,663) rotate(90)" y="4" font-size="11" text-anchor="middle">ReLU</text>
<path d="M1383 663.7H1398" stroke="#c49a1a" stroke-width="2.2" marker-end="url(#mY)"/>
<path d="M1423 663.7H1438.5" stroke="#c49a1a" stroke-width="2.2" marker-end="url(#mY)"/>
<text x="1471" y="667" font-size="10" text-anchor="middle" style="font-weight:normal">×2</text>
</svg>
</body></html>
